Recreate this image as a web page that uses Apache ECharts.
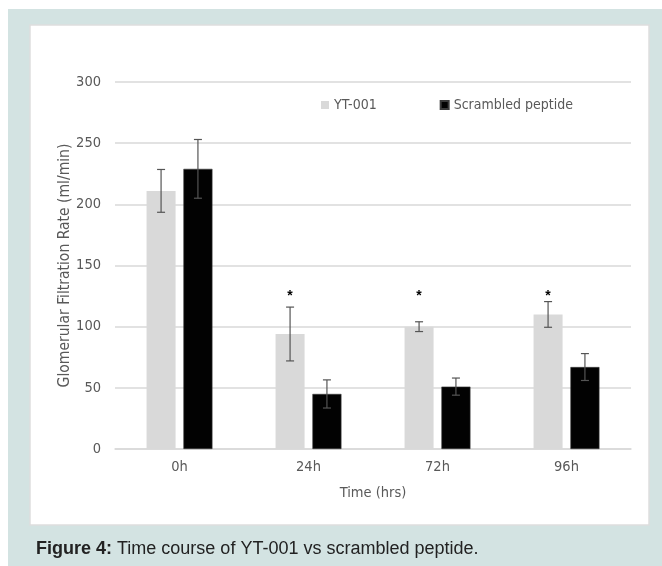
<!DOCTYPE html>
<html>
<head>
<meta charset="utf-8">
<script src="https://cdn.jsdelivr.net/npm/echarts@6/dist/echarts.min.js"></script>
<style>
html,body{margin:0;padding:0;background:#ffffff;}
#chart{width:662px;height:566px;}
</style>
</head>
<body>
<div id="chart"></div>
<script>
var categories = ['0h', '24h', '72h', '96h'];
var ytMean = [211, 94, 100, 110];
var ytErr = [17.5, 22, 4, 10.5];
var scrMean = [229, 45, 51, 67];
var scrErr = [24, 11.5, 7, 11];
var sigY = ['-', 127, 127, 127];
var yTicks = [0, 50, 100, 150, 200, 250, 300];

var BAR_W = 0.225;   // fraction of band
var BAR_GAP = 0.27;  // fraction of bar width
var AXIS_FONT = "'DejaVu Sans Condensed','Liberation Sans Narrow',sans-serif";

function barOffset(bandWidth, sign) {
  var w = bandWidth * BAR_W;
  return sign * (w + w * BAR_GAP) / 2;
}

function errData(mean, err) {
  return mean.map(function (m, i) { return [i, m - err[i], m + err[i]]; });
}

function errRender(sign) {
  return function (params, api) {
    var idx = api.value(0);
    var band = api.size([1, 0])[0];
    var off = barOffset(band, sign);
    var lo = api.coord([idx, api.value(1)]);
    var hi = api.coord([idx, api.value(2)]);
    var x = lo[0] + off;
    var cap = 4;
    var st = { stroke: '#555555', lineWidth: 1.2 };
    return {
      type: 'group',
      children: [
        { type: 'line', shape: { x1: x, y1: hi[1], x2: x, y2: lo[1] }, style: st },
        { type: 'line', shape: { x1: x - cap, y1: hi[1], x2: x + cap, y2: hi[1] }, style: st },
        { type: 'line', shape: { x1: x - cap, y1: lo[1], x2: x + cap, y2: lo[1] }, style: st }
      ]
    };
  };
}

var sigData = [];
sigY.forEach(function (v, i) { if (v !== '-') sigData.push([i, v]); });

var chart = echarts.init(document.getElementById('chart'), null, { renderer: 'canvas' });
chart.setOption({
  animation: false,
  graphic: [
    { type: 'rect', z: -10, shape: { x: 8, y: 9, width: 654, height: 557 }, style: { fill: '#d3e3e2' } },
    { type: 'rect', z: -9, shape: { x: 30, y: 25, width: 619, height: 500 }, style: { fill: '#ffffff', stroke: '#dedede', lineWidth: 1.5 } },
    {
      type: 'text', z: 10, x: 36, y: 549,
      style: {
        text: '{b|Figure 4:} Time course of YT-001 vs scrambled peptide.',
        font: "18px 'Liberation Sans', Arial, sans-serif",
        fill: '#222222',
        verticalAlign: 'middle',
        rich: {
          b: { fontWeight: 'bold', fontSize: 18, fontFamily: "'Liberation Sans', Arial, sans-serif", fill: '#222222' }
        }
      }
    }
  ],
  legend: {
    data: ['YT-001', 'Scrambled peptide'],
    left: 316, top: 93,
    itemWidth: 8, itemHeight: 8, itemGap: 63,
    icon: 'rect',
    textStyle: { color: '#595959', fontSize: 14, fontFamily: AXIS_FONT, padding: [0, 0, 0, 0] }
  },
  grid: { left: 115, right: 31, top: 82, bottom: 117 },
  xAxis: {
    type: 'category',
    data: categories,
    axisLine: { lineStyle: { color: '#d9d9d9', width: 1.5 } },
    axisTick: { show: false },
    axisLabel: { color: '#595959', fontSize: 14.5, fontFamily: AXIS_FONT, margin: 11 },
    name: 'Time (hrs)',
    nameLocation: 'middle',
    nameGap: 37,
    nameMoveOverlap: false,
    nameTextStyle: { color: '#595959', fontSize: 14.5, fontFamily: AXIS_FONT }
  },
  yAxis: {
    type: 'value',
    min: yTicks[0], max: yTicks[yTicks.length - 1], interval: 50,
    axisLine: { show: false },
    axisTick: { show: false },
    splitLine: { lineStyle: { color: '#d9d9d9', width: 1.5 } },
    axisLabel: { color: '#595959', fontSize: 14.5, fontFamily: AXIS_FONT, margin: 14 },
    name: 'Glomerular Filtration Rate (ml/min)',
    nameLocation: 'middle',
    nameGap: 42,
    nameMoveOverlap: false,
    nameTextStyle: { color: '#595959', fontSize: 15.5, fontFamily: AXIS_FONT }
  },
  series: [
    {
      name: 'YT-001', type: 'bar', data: ytMean,
      barWidth: (BAR_W * 100) + '%', barGap: (BAR_GAP * 100) + '%',
      itemStyle: { color: '#d9d9d9' }
    },
    {
      name: 'Scrambled peptide', type: 'bar', data: scrMean,
      barWidth: (BAR_W * 100) + '%', barGap: (BAR_GAP * 100) + '%',
      itemStyle: { color: '#020202', borderColor: '#3a3a3a', borderWidth: 0.6 }
    },
    {
      type: 'custom', name: 'errYT', data: errData(ytMean, ytErr), z: 5,
      renderItem: errRender(-1), encode: { x: 0, y: [1, 2] }
    },
    {
      type: 'custom', name: 'errScr', data: errData(scrMean, scrErr), z: 5,
      renderItem: errRender(1), encode: { x: 0, y: [1, 2] }
    },
    {
      type: 'custom', name: 'sig', data: sigData, z: 5,
      encode: { x: 0, y: 1 },
      renderItem: function (params, api) {
        var idx = api.value(0);
        var band = api.size([1, 0])[0];
        var p = api.coord([idx, api.value(1)]);
        return {
          type: 'text',
          style: {
            text: '*', x: p[0] + barOffset(band, -1), y: p[1] + 3,
            fill: '#000', font: "bold 14px 'Liberation Sans', Arial, sans-serif",
            align: 'center', verticalAlign: 'middle'
          }
        };
      }
    }
  ]
});
</script>
</body>
</html>
